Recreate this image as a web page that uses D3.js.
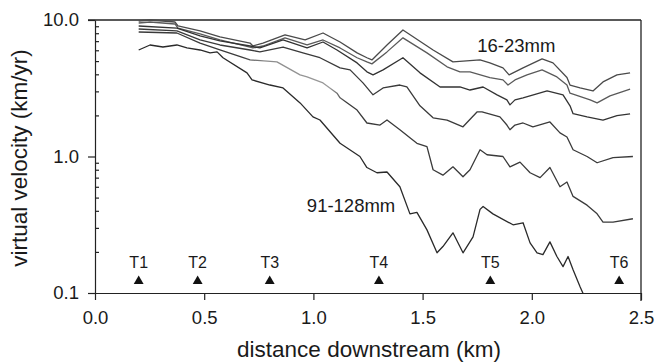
<!DOCTYPE html>
<html>
<head>
<meta charset="utf-8">
<script src="https://cdn.jsdelivr.net/npm/d3@7"></script>
<style>
  html, body { margin: 0; padding: 0; background: #fff; }
  svg { display: block; }
  text { font-family: "Liberation Sans", Arial, Helvetica, sans-serif; fill: #1a1a1a; }
</style>
</head>
<body>
<svg id="chart" width="657" height="362"></svg>
<script>
// ---- data ----
const classLabels = ["16-23mm", "23-32mm", "32-45mm", "45-64mm", "64-91mm", "91-128mm"];

const dist16 = [0.2, 0.252, 0.366, 0.380, 0.481, 0.572, 0.710, 0.723, 0.769, 0.870, 0.962, 1.044, 1.122, 1.200, 1.245, 1.268, 1.337, 1.410, 1.548, 1.639, 1.763, 1.808, 1.868, 1.896, 1.960, 2.047, 2.097, 2.161, 2.175, 2.221, 2.280, 2.326, 2.390, 2.450];
const vel16  = [9.83, 10.0, 9.67, 9.04, 8.31, 7.51, 6.78, 6.45, 6.78, 7.77, 7.14, 8.03, 6.90, 5.74, 5.29, 5.10, 6.56, 8.45, 6.03, 4.93, 5.10, 4.85, 4.46, 3.96, 4.46, 5.19, 4.85, 3.79, 3.34, 3.18, 3.02, 3.52, 3.96, 4.10];

const dist23 = [0.2, 0.252, 0.366, 0.380, 0.481, 0.572, 0.710, 0.723, 0.769, 0.870, 0.971, 1.044, 1.122, 1.200, 1.245, 1.268, 1.337, 1.410, 1.520, 1.612, 1.671, 1.717, 1.808, 1.868, 1.891, 1.923, 1.978, 2.047, 2.115, 2.161, 2.175, 2.267, 2.299, 2.358, 2.450];
const vel23  = [9.51, 9.67, 9.35, 8.73, 7.90, 7.14, 6.34, 6.24, 6.45, 7.40, 6.56, 7.14, 6.24, 5.29, 4.93, 4.77, 5.84, 7.40, 5.74, 4.54, 4.17, 4.17, 3.79, 3.64, 3.34, 3.64, 3.96, 4.31, 3.83, 3.34, 2.91, 2.60, 2.47, 2.78, 3.12];

const dist32 = [0.2, 0.375, 0.481, 0.572, 0.710, 0.755, 0.861, 0.971, 1.044, 1.108, 1.200, 1.245, 1.273, 1.319, 1.410, 1.488, 1.580, 1.671, 1.717, 1.777, 1.841, 1.886, 1.900, 1.923, 1.960, 2.070, 2.143, 2.175, 2.189, 2.253, 2.326, 2.390, 2.450];
const vel32  = [9.04, 8.73, 7.64, 7.02, 6.45, 6.24, 7.14, 6.24, 6.90, 6.03, 4.85, 4.17, 3.96, 4.31, 5.29, 4.10, 3.23, 3.23, 3.07, 3.23, 2.83, 2.60, 2.39, 2.60, 2.69, 3.02, 2.83, 2.35, 2.06, 1.95, 1.85, 1.99, 2.05];

const dist45 = [0.2, 0.375, 0.481, 0.572, 0.710, 0.755, 0.861, 0.952, 1.030, 1.122, 1.168, 1.227, 1.273, 1.319, 1.396, 1.428, 1.488, 1.548, 1.612, 1.685, 1.749, 1.772, 1.854, 1.886, 1.900, 1.923, 1.960, 2.005, 2.083, 2.129, 2.161, 2.189, 2.253, 2.299, 2.372, 2.463];
const vel45  = [8.59, 8.31, 7.14, 6.56, 6.03, 5.84, 6.34, 5.74, 5.29, 4.46, 4.31, 3.46, 2.83, 3.18, 3.34, 3.23, 2.35, 1.92, 1.85, 1.65, 2.12, 2.12, 1.95, 1.70, 1.57, 1.70, 1.76, 1.65, 1.79, 1.49, 1.39, 1.12, 1.00, 0.90, 0.98, 1.00];

const dist64 = [0.2, 0.375, 0.481, 0.572, 0.710, 0.833, 0.939, 0.971, 1.044, 1.108, 1.122, 1.200, 1.245, 1.305, 1.337, 1.396, 1.442, 1.474, 1.520, 1.548, 1.593, 1.639, 1.685, 1.717, 1.763, 1.795, 1.868, 1.900, 1.946, 1.992, 2.038, 2.083, 2.129, 2.161, 2.189, 2.253, 2.299, 2.326, 2.372, 2.463];
const vel64  = [8.17, 8.03, 6.78, 6.03, 5.10, 4.93, 3.96, 3.83, 3.46, 2.91, 2.69, 2.19, 1.76, 1.70, 1.85, 1.57, 1.37, 1.25, 1.18, 0.80, 0.73, 0.84, 0.71, 0.80, 1.12, 1.03, 1.00, 0.84, 0.91, 0.76, 0.70, 0.83, 0.60, 0.65, 0.51, 0.44, 0.38, 0.33, 0.33, 0.35];

const dist91 = [0.2, 0.252, 0.311, 0.375, 0.421, 0.481, 0.527, 0.559, 0.586, 0.696, 0.719, 0.801, 0.861, 0.939, 0.998, 1.030, 1.122, 1.213, 1.245, 1.291, 1.337, 1.396, 1.442, 1.474, 1.520, 1.566, 1.593, 1.639, 1.685, 1.731, 1.763, 1.777, 1.822, 1.914, 1.960, 1.992, 2.024, 2.051, 2.083, 2.115, 2.143, 2.166, 2.189, 2.221, 2.240];
const vel91  = [6.03, 6.56, 6.34, 6.56, 6.24, 6.03, 5.74, 5.84, 5.29, 4.10, 3.64, 3.34, 3.18, 2.47, 1.95, 1.85, 1.25, 1.00, 0.83, 0.76, 0.77, 0.60, 0.38, 0.39, 0.29, 0.197, 0.219, 0.276, 0.197, 0.258, 0.41, 0.43, 0.38, 0.316, 0.327, 0.233, 0.197, 0.191, 0.237, 0.185, 0.156, 0.185, 0.148, 0.111, 0.095];

const tracerSites = ["T1", "T2", "T3", "T4", "T5", "T6"];
const tracerDist  = [0.20, 0.47, 0.80, 1.30, 1.81, 2.40];
const tracerLevel = 0.124;

const xTicks = [0, 0.5, 1.0, 1.5, 2.0, 2.5];
const yTicks = [0.1, 1, 10];
const yMinor = [0.2, 0.3, 0.4, 0.5, 0.6, 0.7, 0.8, 0.9, 2, 3, 4, 5, 6, 7, 8, 9];

// ---- layout ----
const svg = d3.select("#chart");
const mLeft = 95, mRight = 641, mTop = 20, mBottom = 293;

const x = d3.scaleLinear().domain([0, 2.5]).range([mLeft, mRight]);
const y = d3.scaleLog().domain([0.1, 10]).range([mBottom, mTop]);

const seriesDist = [dist16, dist23, dist32, dist45, dist64, dist91];
const seriesVel  = [vel16, vel23, vel32, vel45, vel64, vel91];
const series = classLabels.map((name, i) => ({
  name,
  points: seriesDist[i].map((d, j) => [d, seriesVel[i][j]])
}));
const strokes = ["#4a4a4a", "#5a5a5a", "#333", "#3a3a3a", "url(#g64)", "#2a2a2a"];

const defs = svg.append("defs");
defs.append("clipPath").attr("id", "plotClip")
  .append("rect").attr("x", mLeft).attr("y", mTop - 2).attr("width", mRight - mLeft).attr("height", mBottom - mTop + 2);
const grad = defs.append("linearGradient").attr("id", "g64")
  .attr("gradientUnits", "userSpaceOnUse")
  .attr("x1", x(0)).attr("x2", x(2.5)).attr("y1", 0).attr("y2", 0);
[[0.0, "#3a3a3a"], [0.27, "#3a3a3a"], [0.31, "#8c8c8c"], [0.43, "#9a9a9a"], [0.46, "#3a3a3a"], [1, "#3a3a3a"]]
  .forEach(([o, c]) => grad.append("stop").attr("offset", o).attr("stop-color", c));

// frame
const frame = svg.append("g").attr("stroke", "#222").attr("stroke-width", 1.3).attr("fill", "none");
frame.append("line").attr("x1", mLeft - 7).attr("x2", mRight).attr("y1", mTop).attr("y2", mTop);
frame.append("line").attr("x1", mRight).attr("x2", mRight).attr("y1", mTop).attr("y2", mBottom + 8);

// x axis
const xAxis = svg.append("g").attr("transform", `translate(0,${mBottom})`)
  .call(d3.axisBottom(x).tickValues(xTicks).tickFormat(d3.format(".1f")).tickSize(7).tickSizeOuter(0).tickPadding(11));
xAxis.selectAll("text").attr("font-size", 18.5).style("font-family", "'Liberation Sans', Arial, sans-serif").attr("fill", "#1a1a1a");

// y axis (major ticks outside, minor inside)
const yAxis = svg.append("g").attr("transform", `translate(${mLeft},0)`)
  .call(d3.axisLeft(y).tickValues(yTicks).tickFormat(d3.format(".1f")).tickSize(7).tickSizeOuter(0).tickPadding(9));
yAxis.selectAll("text").attr("font-size", 18.5).style("font-family", "'Liberation Sans', Arial, sans-serif").attr("fill", "#1a1a1a");
svg.append("g").attr("transform", `translate(${mLeft},0)`)
  .call(d3.axisRight(y).tickValues(yMinor).tickFormat("").tickSize(4).tickSizeOuter(0))
  .call(g => g.select(".domain").remove());
svg.selectAll(".domain, .tick line").attr("stroke", "#222").attr("stroke-width", 1.2);

// curves
const line = d3.line().x(d => x(d[0])).y(d => y(d[1]));
svg.append("g").attr("clip-path", "url(#plotClip)")
  .selectAll("path").data(series).join("path")
  .attr("d", d => line(d.points))
  .attr("fill", "none")
  .attr("stroke", (d, i) => strokes[i])
  .attr("stroke-width", 1.3)
  .attr("stroke-linejoin", "round");

// curve labels
svg.append("text").attr("x", x(1.75)).attr("y", y(5.8)).attr("font-size", 18.5).text(classLabels[0]);
svg.append("text").attr("x", x(0.97)).attr("y", y(0.39)).attr("font-size", 18.5).text(classLabels[5]);

// tracer sites
const tri = d3.symbol().type(d3.symbolTriangle).size(42);
const sites = svg.append("g").selectAll("g").data(tracerSites).join("g")
  .attr("transform", (d, i) => `translate(${x(tracerDist[i])},${y(tracerLevel)})`);
sites.append("path").attr("d", tri).attr("fill", "#111").attr("transform", "translate(0,1)");
sites.append("text").attr("text-anchor", "middle").attr("y", -12).attr("font-size", 16).text(d => d);

// axis titles
svg.append("text").attr("x", 369).attr("y", 357)
  .attr("text-anchor", "middle").attr("font-size", 22.5).text("distance downstream (km)");
svg.append("text").attr("transform", `translate(27,158) rotate(-90)`)
  .attr("text-anchor", "middle").attr("font-size", 22.5).text("virtual velocity (km/yr)");
</script>
</body>
</html>
